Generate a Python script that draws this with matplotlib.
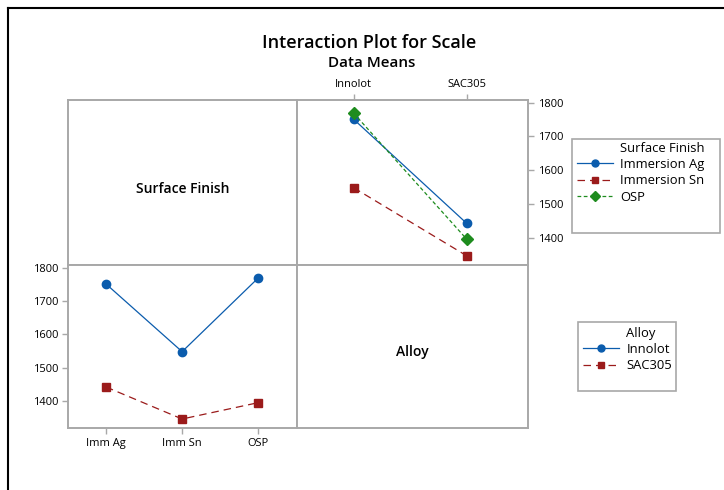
import matplotlib
matplotlib.use("Agg")
from matplotlib import pyplot as plt
from matplotlib.lines import Line2D
from matplotlib.patches import Rectangle

# data means
finishes = ['Immersion Ag', 'Immersion Sn', 'OSP']
finish_ticks = ['Imm Ag', 'Imm Sn', 'OSP']
alloys = ['Innolot', 'SAC305']
innolot = [1751, 1548, 1769]
sac305 = [1442, 1346, 1395]
yticks = [1400, 1500, 1600, 1700, 1800]

W, H = 724, 490
plt.rcParams['font.family'] = ['Open Sans', 'DejaVu Sans']
fig = plt.figure(figsize=(W / 100, H / 100), dpi=100)

blue = '#0B5CAD'
red = '#9B1B1B'
green = '#1E8C1E'
frame = '#A8A8A8'


def box(x0, y0, x1, y1):
    return [x0 / W, 1 - y1 / H, (x1 - x0) / W, (y1 - y0) / H]


def panel(rect):
    ax = fig.add_axes(box(*rect))
    for s in ax.spines.values():
        s.set_color(frame)
        s.set_linewidth(1.4)
    ax.set_xticks([])
    ax.set_yticks([])
    return ax


ax_tl = panel((68, 100, 297, 265))
ax_tr = panel((297, 100, 528, 265))
ax_bl = panel((68, 265, 297, 428))
ax_br = panel((297, 265, 528, 428))

ylim = (1319, 1808)

# top-right: x = alloy, lines = surface finish
series = [
    ([innolot[0], sac305[0]], blue, '-', 'o', 6),
    ([innolot[1], sac305[1]], red, (0, (6, 4)), 's', 6),
    ([innolot[2], sac305[2]], green, (0, (3, 2)), 'D', 6),
]
handles1 = [Line2D([], [], linestyle='none')]
labels1 = ['Surface Finish']
for (vals, c, ls, m, ms), name in zip(series, finishes):
    ax_tr.plot(range(len(alloys)), vals, color=c, linestyle=ls, linewidth=0.9,
               marker=m, markersize=ms, markerfacecolor=c, markeredgecolor=c)
    handles1.append(Line2D([], [], color=c, linestyle=ls, linewidth=0.9,
                           marker=m, markersize=5, markerfacecolor=c, markeredgecolor=c))
    labels1.append(name)
ax_tr.set_xlim(-0.5, 1.54)
ax_tr.set_ylim(*ylim)
ax_tr.xaxis.tick_top()
ax_tr.yaxis.tick_right()
ax_tr.set_xticks(range(len(alloys)))
ax_tr.set_xticklabels(alloys, fontsize=8)
ax_tr.set_yticks(yticks)
ax_tr.set_yticklabels([str(v) for v in yticks], fontsize=8)
ax_tr.tick_params(color=frame, length=4, width=1, pad=3)

# bottom-left: x = surface finish, lines = alloy
handles2 = [Line2D([], [], linestyle='none')]
labels2 = ['Alloy']
for vals, c, ls, m, name in [(innolot, blue, '-', 'o', 'Innolot'),
                             (sac305, red, (0, (6, 4)), 's', 'SAC305')]:
    ax_bl.plot(range(len(finish_ticks)), vals, color=c, linestyle=ls, linewidth=0.9,
               marker=m, markersize=6, markerfacecolor=c, markeredgecolor=c)
    handles2.append(Line2D([], [], color=c, linestyle=ls, linewidth=0.9,
                           marker=m, markersize=5, markerfacecolor=c, markeredgecolor=c))
    labels2.append(name)
ax_bl.set_xlim(-0.5, 2.51)
ax_bl.set_ylim(*ylim)
ax_bl.set_xticks(range(len(finish_ticks)))
ax_bl.set_xticklabels(finish_ticks, fontsize=8)
ax_bl.set_yticks(yticks)
ax_bl.set_yticklabels([str(v) for v in yticks], fontsize=8)
ax_bl.tick_params(color=frame, length=4, width=1, pad=3)

ax_tl.text(0.5, 0.46, 'Surface Finish', transform=ax_tl.transAxes,
           ha='center', va='center', fontsize=10, fontweight='semibold')
ax_br.text(0.5, 0.466, 'Alloy', transform=ax_br.transAxes,
           ha='center', va='center', fontsize=10, fontweight='semibold')

fig.text(369 / W, 1 - 43 / H, 'Interaction Plot for Scale', ha='center', va='center',
         fontsize=13, fontweight='semibold')
fig.text(372 / W, 1 - 63 / H, 'Data Means', ha='center', va='center',
         fontsize=11, fontweight='semibold')

# legend boxes
fig.patches.append(Rectangle((572 / W, 1 - 233 / H), 148 / W, 94 / H,
                             transform=fig.transFigure, fill=False,
                             edgecolor=frame, linewidth=1.2))
fig.patches.append(Rectangle((578 / W, 1 - 391 / H), 98 / W, 69 / H,
                             transform=fig.transFigure, fill=False,
                             edgecolor=frame, linewidth=1.2))

leg_kw = dict(loc='upper left', frameon=False, fontsize=9.4, handlelength=2.8,
              handletextpad=0.55, labelspacing=0.26, borderpad=0.2, borderaxespad=0)
fig.legend(handles1, labels1, bbox_to_anchor=(574 / W, 1 - 139 / H), **leg_kw)
fig.legend(handles2, labels2, bbox_to_anchor=(580 / W, 1 - 324 / H), **leg_kw)

# screenshot border
fig.add_artist(Line2D([8 / W, 8 / W], [0, 1 - 8 / H], color='black', linewidth=1.5,
                      transform=fig.transFigure))
fig.add_artist(Line2D([8 / W, 1], [1 - 8 / H, 1 - 8 / H], color='black', linewidth=1.5,
                      transform=fig.transFigure))

fig.savefig('out.png', dpi=100)
